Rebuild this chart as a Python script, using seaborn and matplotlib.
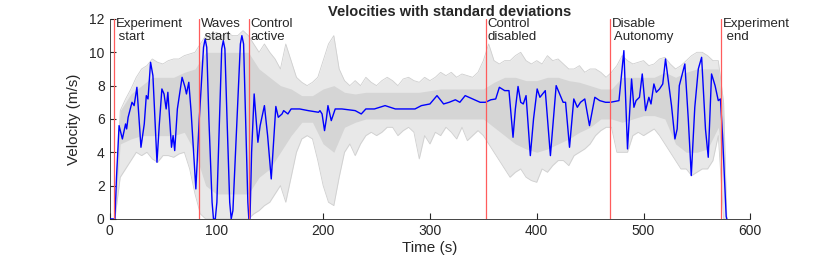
import numpy as np
import pandas as pd
import matplotlib
matplotlib.use("Agg")
import matplotlib.pyplot as plt
import seaborn as sns

# mean velocity (blue)
t_mean = [0, 5, 6.5, 8.9, 12, 15, 16, 17.4, 21, 23, 25.6, 29.4, 32.5, 34.4, 36, 38.4, 40.6, 44.4,
          46.5, 49, 51, 53, 54.6, 58, 59.5, 61, 63.5, 67.9, 70.7, 72, 74.2, 76.4, 80.8, 84, 88,
          89.5, 91, 93, 96, 97.3, 99, 100.5, 103, 105, 106.5, 108, 110, 112.5, 113.9, 115.5,
          119, 122.5, 123.9, 125.5, 127, 129.5, 130.4, 131.5, 133, 135.4,
          138.9, 141, 145, 148, 151.4, 155.7, 158, 161.5, 163, 167, 170, 178, 186, 195.7, 197,
          199, 201.3, 203, 204.5, 207.6, 211.3, 217.6, 230, 235.7, 240, 248, 258, 267.6, 277,
          286, 292, 300, 306.6, 312.8, 318, 323.8, 328, 333, 340, 347, 352, 357, 361.6, 365, 370,
          374, 377.8, 380, 382.5, 385, 387.4, 390, 394, 397, 400.4, 403, 408, 412.8, 418.2,
          424.7, 427, 430.7, 434.7, 438, 441, 445, 449.4, 454.4, 459, 464.4, 469, 477, 481.6,
          485, 488.8, 491, 493, 496.2, 498.8, 501.9, 505, 507, 509.7, 512, 515, 518, 520.6, 524,
          526.2, 529.4, 531.5, 533.5, 538.7, 541.9, 544.7, 548, 551.3, 554.4, 558, 560.6, 563.7,
          567, 570, 572, 574, 577.4, 578]
v_mean = [0, 0, 2.5, 5.6, 4.8, 5.7, 5.4, 6.1, 7.0, 6.8, 7.9, 4.3, 5.7, 7.4, 7.2, 9.4, 8.6, 3.4,
          5.6, 7.8, 7.5, 6.6, 7.6, 4.3, 5.0, 4.1, 6.6, 8.5, 7.9, 7.5, 8.2, 6.4, 1.8, 6.0, 10.3,
          10.8, 10.3, 6.0, 1.0, 0, 0, 1.0, 6.0, 10.2, 10.7, 10.2, 6.0, 1.0, 0, 0.5,
          5.5, 10.5, 11.0, 10.5, 7.0, 1.0, 0, 0, 4.0, 7.5,
          4.6, 5.6, 6.8, 5.0, 2.4, 6.75, 6.1, 6.3, 6.5, 6.3, 6.6, 6.6, 6.5, 6.4, 6.5,
          6.3, 5.3, 6.0, 6.8, 5.9, 6.6, 6.6, 6.5, 6.3, 6.6, 6.6, 6.8, 6.6, 6.6,
          6.6, 6.8, 6.9, 7.4, 6.9, 7.0, 7.15, 7.0, 7.4, 7.2, 7.0, 7.0, 7.15, 7.2, 7.9, 7.7,
          7.7, 4.9, 6.6, 7.95, 7.0, 6.9, 7.4, 3.8, 6.0, 7.8, 7.3, 7.7, 3.8, 8.0,
          7.0, 7.0, 4.3, 7.2, 6.7, 7.0, 7.2, 5.6, 7.3, 7.1, 7.0, 7.0, 7.1, 10.1,
          4.2, 8.4, 6.7, 7.1, 7.3, 8.7, 6.5, 7.3, 6.9, 8.1, 7.6, 7.8, 8.1, 9.6, 7.9,
          6.8, 4.8, 5.4, 8.0, 9.3, 6.0, 2.6, 6.7, 9.0, 9.7, 5.4, 3.7, 8.7,
          8.0, 7.1, 7.2, 5.0, 0.15, 0]

# full spread of the individual runs (grey), every 5 s
t_band = [5, 10, 15, 20, 25, 30, 35, 40, 45, 50, 55, 60, 65, 70, 75, 80, 85, 90, 95, 100, 105,
          110, 115, 120, 125, 130, 135, 140, 145, 150, 155, 160, 165, 170, 175, 180, 185, 190,
          195, 200, 205, 210, 215, 220, 225, 230, 235, 240, 245, 250, 255, 260, 265, 270, 275,
          280, 285, 290, 295, 300, 305, 310, 315, 320, 325, 330, 335, 340, 345, 350, 355, 360,
          365, 370, 375, 380, 385, 390, 395, 400, 405, 410, 415, 420, 425, 430, 435, 440, 445,
          450, 455, 460, 465, 470, 475, 480, 485, 490, 495, 500, 505, 510, 515, 520, 525, 530,
          535, 540, 545, 550, 555, 560, 565, 570, 575, 578]
v_upper = [0, 6.5, 7.2, 7.8, 8.5, 9.0, 9.2, 9.6, 9.4, 9.3, 9.5, 9.6, 9.6, 9.8, 9.9, 10.0, 10.5,
           11.0, 11.0, 11.2, 11.0, 11.2, 11.0, 11.0, 11.3, 11.0, 10.5, 10.0, 10.5, 10.0, 9.6,
           9.0, 10.5, 9.5, 8.5, 8.2, 8.0, 8.2, 8.5, 9.5, 10.5, 11.0, 9.0, 8.3, 8.0, 8.3, 8.0,
           8.5, 8.2, 8.0, 8.3, 8.5, 8.3, 8.0, 8.4, 8.5, 8.3, 8.2, 8.5, 8.3, 8.5, 8.8, 8.6, 8.8,
           8.5, 8.7, 8.6, 8.5, 8.8, 9.5, 10.5, 9.5, 9.3, 9.5, 9.5, 9.8, 10.0, 9.5, 9.3, 9.5,
           9.3, 9.8, 9.5, 9.6, 9.3, 9.0, 9.0, 9.2, 8.8, 9.0, 9.0, 8.8, 8.5, 8.8, 9.2, 9.8, 9.5,
           9.3, 9.4, 9.5, 9.2, 9.3, 9.6, 9.7, 9.3, 9.0, 9.2, 9.5, 9.8, 10.0, 10.0, 9.8, 9.5,
           9.5, 7.0, 0]
v_lower = [0, 2.5, 3.0, 3.5, 4.0, 3.8, 4.0, 3.6, 3.4, 3.8, 3.8, 3.7, 3.9, 4.0, 3.0, 1.5, 0.3,
           0, 0, 0, 0, 0, 0, 0, 0, 0, 0.3, 0.5, 0.8, 1.0, 1.5, 2.0, 1.0, 2.5, 4.0, 4.8, 5.0,
           4.8, 3.5, 2.0, 1.0, 0.8, 2.5, 4.0, 4.5, 3.8, 4.5, 5.0, 5.2, 5.0, 5.2, 5.5, 5.5, 5.0,
           5.3, 5.5, 5.2, 3.6, 5.0, 4.5, 5.2, 5.0, 5.5, 5.2, 4.8, 5.5, 4.7, 5.0, 5.3, 5.0, 4.5,
           4.0, 3.5, 3.0, 2.5, 2.8, 3.0, 2.5, 2.3, 2.2, 3.0, 2.8, 3.2, 3.5, 3.5, 3.2, 3.8, 4.0,
           4.2, 4.5, 5.0, 5.3, 5.5, 5.5, 4.0, 4.0, 4.0, 5.0, 5.2, 5.0, 5.2, 5.4, 5.0, 4.5, 4.0,
           3.5, 3.0, 3.0, 2.6, 2.8, 3.0, 3.0, 3.5, 5.0, 0, 0]

# dense core of the runs, every 10 s
t_core = [6, 10, 20, 30, 40, 50, 60, 70, 80, 90, 100, 110, 120, 130, 140, 150, 160, 170, 180,
          190, 200, 210, 220, 230, 240, 250, 260, 270, 280, 290, 300, 310, 320, 330, 340, 350,
          360, 370, 380, 390, 400, 410, 420, 430, 440, 450, 460, 470, 480, 490, 500, 510, 520,
          530, 540, 550, 560, 570, 575, 577]
core_upper = [3.0, 6.5, 7.5, 8.0, 8.5, 8.5, 8.5, 8.8, 9.0, 10.0, 10.0, 10.0, 10.0, 10.0, 9.0,
              8.5, 8.0, 7.8, 7.4, 7.4, 7.8, 8.0, 7.6, 7.5, 7.6, 7.6, 7.6, 7.6, 7.6, 7.6, 7.7,
              7.8, 7.8, 7.8, 7.8, 7.8, 8.2, 8.5, 8.5, 8.3, 8.3, 8.5, 8.5, 8.3, 8.2, 8.0, 7.8,
              7.8, 8.5, 8.5, 8.5, 8.5, 8.8, 8.5, 8.8, 9.0, 9.0, 9.0, 6.0, 0.5]
core_lower = [1.0, 4.5, 4.8, 5.0, 5.0, 5.0, 5.0, 5.2, 4.0, 2.0, 1.5, 1.5, 1.5, 1.5, 2.5, 3.0,
              4.0, 5.0, 5.8, 5.8, 4.5, 4.0, 5.5, 5.8, 6.0, 6.0, 6.0, 6.0, 6.0, 6.0, 6.0, 6.0,
              6.0, 6.0, 6.0, 6.0, 5.5, 5.0, 4.5, 4.2, 4.0, 4.2, 4.5, 4.8, 5.2, 5.5, 6.0, 6.0,
              5.8, 6.0, 6.2, 6.2, 6.0, 4.5, 4.0, 4.0, 4.2, 5.5, 3.0, 0.0]

# event markers
event_times = [4, 84, 130.5, 352.5, 468.5, 572.5]
event_labels = ["Experiment\n start", "Waves\n start", "Control\nactive",
                "Control\ndisabled", "Disable\n Autonomy", "Experiment\n end"]

mean_df = pd.DataFrame({"Time": t_mean, "Velocity": v_mean})

sns.set_style("ticks")
plt.rcParams["font.family"] = ["Liberation Sans", "DejaVu Sans"]

fig = plt.figure(figsize=(8.3, 2.6), dpi=100)
ax = fig.add_axes([0.132, 0.158, 0.772, 0.769])

ax.fill_between(t_band, v_lower, v_upper, color="#e8e8e8", lw=0, zorder=1)
ax.plot(t_band, v_upper, color="#cfcfcf", lw=0.6, zorder=1)
ax.plot(t_band, v_lower, color="#cfcfcf", lw=0.6, zorder=1)
ax.fill_between(t_core, core_lower, core_upper, color="#d5d5d5", lw=0, zorder=2)

sns.lineplot(data=mean_df, x="Time", y="Velocity", color="#0000ff", lw=1.0, ax=ax,
             sort=False, zorder=3)

for t, lab in zip(event_times, event_labels):
    ax.axvline(t, color="#ff5c5c", lw=0.9, zorder=4)
    ax.text(t + 1.5, 12.05, lab, fontsize=9.5, va="top", ha="left", zorder=5,
            linespacing=1.15, clip_on=False)

ax.set_xlim(0, 600)
ax.set_ylim(0, 12)
ax.set_xticks(range(0, 601, 100))
ax.set_yticks(range(0, 13, 2))
ax.tick_params(direction="in", length=4, labelsize=10, color="#262626", labelcolor="#262626")
for s in ["top", "right"]:
    ax.spines[s].set_visible(False)
for s in ["left", "bottom"]:
    ax.spines[s].set_color("#262626")
    ax.spines[s].set_linewidth(0.6)
ax.set_xlabel("Time (s)", fontsize=11, labelpad=2)
ax.set_ylabel("Velocity (m/s)", fontsize=11, labelpad=6)
ax.set_title("Velocities with standard deviations", fontsize=10.5, fontweight="bold",
             x=0.53, pad=1)

fig.savefig("out.png", dpi=100)
